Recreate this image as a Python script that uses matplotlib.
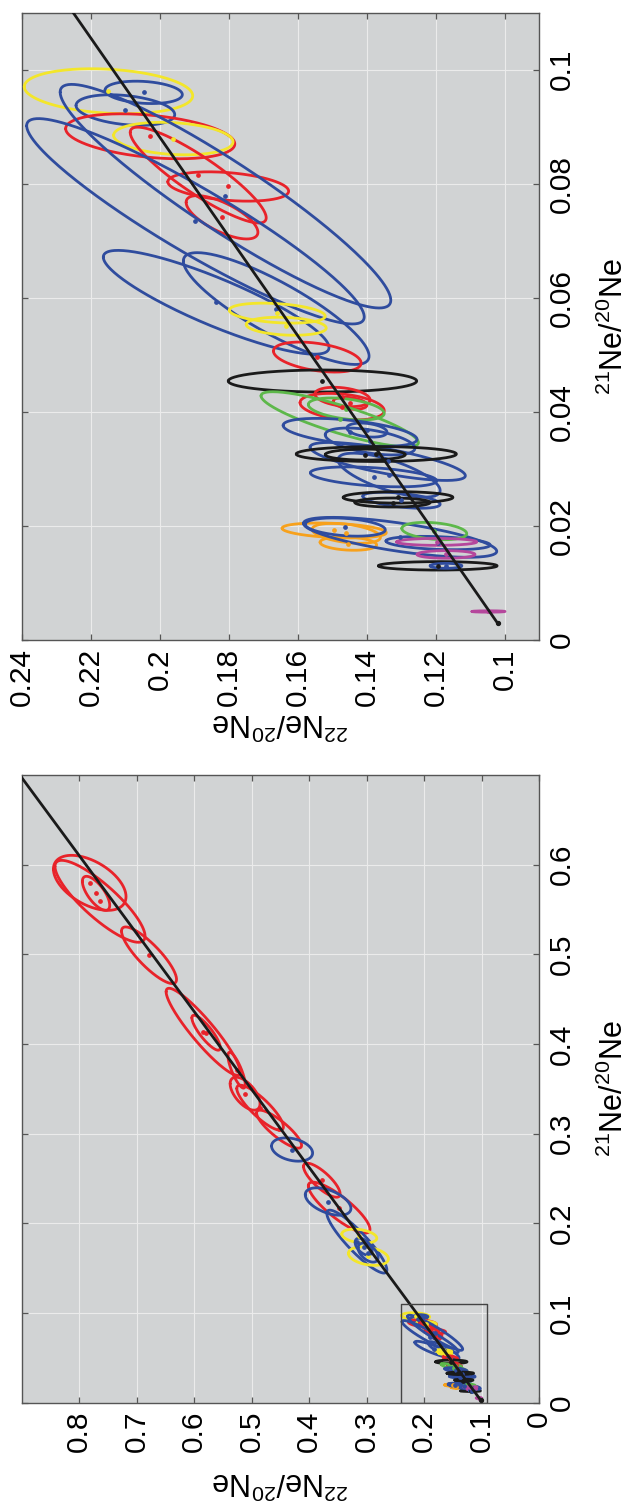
import numpy as np
import matplotlib
matplotlib.use("Agg")
import matplotlib.pyplot as plt

plt.rcParams["font.family"] = ["Liberation Sans", "DejaVu Sans"]
plt.rcParams["mathtext.fontset"] = "custom"
plt.rcParams["mathtext.rm"] = "Liberation Sans"
plt.rcParams["mathtext.it"] = "Liberation Sans:italic"
plt.rcParams["mathtext.bf"] = "Liberation Sans:bold"

# ---- data: neon isotope error ellipses (21Ne/20Ne, 22Ne/20Ne) ----
ell_group = [
    "yellow", "blue", "blue", "red", "yellow", "red", "red", "red",
    "blue", "blue", "blue", "blue", "yellow", "yellow", "red", "black",
    "red", "red", "red", "green", "green", "blue", "blue", "blue",
    "blue", "blue", "blue", "blue", "black", "black", "black", "black",
    "black", "orange", "orange", "orange", "blue", "blue", "green",
    "magenta", "magenta", "magenta", "blue", "blue",
    "red", "red", "red", "red", "red", "red", "red", "red", "red", "red",
    "blue", "red", "red", "blue", "blue", "yellow", "yellow", "blue", "blue",
]
ne21 = [
    0.0962, 0.0960, 0.0929, 0.0883, 0.0879, 0.0815, 0.0795, 0.0741,
    0.0734, 0.0778, 0.0592, 0.0581, 0.0573, 0.0550, 0.0496, 0.0454,
    0.0426, 0.0409, 0.0415, 0.0387, 0.0405, 0.0364, 0.0368, 0.0348,
    0.0313, 0.0286, 0.0289, 0.0245, 0.0326, 0.0325, 0.0250, 0.0241,
    0.0130, 0.0192, 0.0187, 0.0169, 0.0180, 0.0170, 0.0191,
    0.0172, 0.0150, 0.0050, 0.0198, 0.0130,
    0.5797, 0.5591, 0.5680, 0.4989, 0.4136, 0.4125, 0.3707, 0.3445, 0.3289, 0.3049,
    0.2822, 0.2480, 0.2174, 0.2242, 0.1795, 0.1856, 0.1633, 0.1672, 0.1739,
]
ne22 = [
    0.2148, 0.2046, 0.2099, 0.2027, 0.1960, 0.1888, 0.1801, 0.1819,
    0.1896, 0.1809, 0.1836, 0.1662, 0.1659, 0.1633, 0.1543, 0.1528,
    0.1470, 0.1471, 0.1448, 0.1478, 0.1459, 0.1448, 0.1399, 0.1390,
    0.1339, 0.1380, 0.1335, 0.1299, 0.1372, 0.1404, 0.1309, 0.1325,
    0.1194, 0.1494, 0.1459, 0.1453, 0.1303, 0.1193, 0.1204,
    0.1197, 0.1170, 0.1047, 0.1462, 0.1170,
    0.7814, 0.7635, 0.7704, 0.6783, 0.5843, 0.5791, 0.5261, 0.5113, 0.4852, 0.4522,
    0.4296, 0.3779, 0.3478, 0.3670, 0.3170, 0.3127, 0.2969, 0.2974, 0.3052,
]
sig21 = [
    0.00394, 0.00196, 0.00268, 0.00394, 0.00285, 0.0084, 0.00257, 0.0038,
    0.0180, 0.0196, 0.0091, 0.0098, 0.00175, 0.00158, 0.00263, 0.00193,
    0.0017, 0.00233, 0.00105, 0.00482, 0.00193, 0.00245, 0.00123, 0.00236,
    0.00333, 0.00175, 0.00385, 0.0014, 0.00131, 0.00096, 0.0010, 0.00079,
    0.00074, 0.00131, 0.00175, 0.00117, 0.0035, 0.00117, 0.00152,
    0.00061, 0.00067, 0.00012, 0.0016, 0.00044,
    0.0307, 0.0457, 0.0190, 0.0316, 0.0485, 0.0195, 0.0200, 0.0184, 0.0251, 0.0212,
    0.0130, 0.0190, 0.0284, 0.0153, 0.0351, 0.0078, 0.0103, 0.0106, 0.0095,
]
sig22 = [
    0.0244, 0.0112, 0.0143, 0.0245, 0.0173, 0.0197, 0.0175, 0.0104,
    0.0489, 0.0479, 0.0327, 0.0269, 0.0139, 0.0116, 0.0127, 0.0273,
    0.0080, 0.0122, 0.0049, 0.0228, 0.0110, 0.0194, 0.0058, 0.0130,
    0.0225, 0.0183, 0.0148, 0.0112, 0.0232, 0.0116, 0.0159, 0.0109,
    0.0172, 0.0151, 0.0099, 0.0082, 0.0280, 0.0151, 0.0094,
    0.0116, 0.0084, 0.0048, 0.0116, 0.0046,
    0.0631, 0.0783, 0.0238, 0.0478, 0.0643, 0.0247, 0.0150, 0.0260, 0.0405, 0.0391,
    0.0357, 0.0318, 0.0536, 0.0397, 0.0522, 0.0304, 0.0348, 0.0174, 0.0148,
]
corr = [
    0.2, 0.2, 0.3, 0.34, 0.2, 0.89, 0.32, 0.69,
    0.93, 0.93, 0.87, 0.85, 0.3, 0.2, 0.4, 0.0,
    0.3, 0.3, 0.3, 0.85, 0.4, 0.5, 0.3, 0.5,
    0.75, 0.4, 0.7, 0.5, 0.0, 0.0, 0.0, 0.0,
    0.0, 0.3, 0.4, 0.2, 0.7, 0.3, 0.3,
    0.0, 0.0, 0.0, 0.3, 0.0,
    0.5, 0.85, 0.7, 0.85, 0.92, 0.85, 0.8, 0.6, 0.85, 0.85,
    0.3, 0.8, 0.85, 0.5, 0.9, 0.3, 0.3, 0.5, 0.5,
]

# air composition and the cosmogenic trend through it
air_21, air_22 = 0.0029, 0.102
trend_slope = 1.149
trend_end_21 = 0.75

palette = {
    "blue": "#2f4c9e",
    "red": "#e8232a",
    "yellow": "#f3e62a",
    "green": "#5db84a",
    "orange": "#f7a11c",
    "magenta": "#b5479c",
    "black": "#1a1a1a",
}

panel_x_ticks = [[0.24, 0.22, 0.20, 0.18, 0.16, 0.14, 0.12, 0.10],
                 [0.8, 0.7, 0.6, 0.5, 0.4, 0.3, 0.2, 0.1, 0.0]]
panel_y_ticks = [[0.0, 0.02, 0.04, 0.06, 0.08, 0.10],
                 [0.0, 0.1, 0.2, 0.3, 0.4, 0.5, 0.6]]
panel_x_lim = [(0.24, 0.09), (0.9, 0.0)]
panel_y_lim = [(0.0, 0.11), (0.0, 0.70)]


def ellipse_curve(c21, c22, s21, s22, rho, n=240):
    t = np.linspace(0, 2 * np.pi, n)
    phi = np.arccos(rho)
    return c22 + s22 * np.cos(t), c21 + s21 * np.cos(t + phi)


def fmt(v):
    return f"{v:g}"


W, H = 629, 1506
fig = plt.figure(figsize=(W / 100, H / 100), dpi=100)
fig.patch.set_facecolor("white")

ax_left = 21.5 / W
ax_w = 517.7 / W
ax_h = 627.5 / H
ax_top = fig.add_axes([ax_left, 1 - 640 / H, ax_w, ax_h])
ax_full = fig.add_axes([ax_left, 1 - 1402.5 / H, ax_w, ax_h])

label22 = r"$^{22}$Ne/$^{20}$Ne"
label21 = r"$^{21}$Ne/$^{20}$Ne"

for i, ax in enumerate([ax_top, ax_full]):
    ax.set_facecolor("#d1d3d4")
    ax.set_xlim(*panel_x_lim[i])
    ax.set_ylim(*panel_y_lim[i])
    ax.set_xticks(panel_x_ticks[i])
    ax.set_xticklabels([fmt(v) for v in panel_x_ticks[i]])
    ax.set_yticks(panel_y_ticks[i])
    ax.set_yticklabels([fmt(v) for v in panel_y_ticks[i]])
    ax.grid(True, color="#ebebeb", linewidth=0.8, zorder=0)
    ax.set_axisbelow(True)
    ax.tick_params(direction="in", length=4, width=0.9, color="#555555",
                   top=True, bottom=True, left=True, right=True,
                   labelleft=False, labelright=True,
                   labelbottom=True, labeltop=False,
                   labelsize=21.5, pad=6)
    for lab in ax.get_xticklabels():
        lab.set_rotation(90)
        lab.set_ha("center")
        lab.set_va("top")
    for lab in ax.get_yticklabels():
        lab.set_rotation(90)
        lab.set_va("center")
        lab.set_ha("left")
    for sp in ax.spines.values():
        sp.set_color("#555555")
        sp.set_linewidth(1.0)

    # error ellipses and their centres
    for g, a, b, s1, s2, r in zip(ell_group, ne21, ne22, sig21, sig22, corr):
        ex, ey = ellipse_curve(a, b, s1, s2, r)
        ax.plot(ex, ey, color=palette[g], linewidth=2.0, zorder=3,
                solid_capstyle="round")
        ax.plot([b], [a], "o", color=palette[g], markersize=2.4, zorder=4)

    # trend line from air
    t21 = np.array([air_21, trend_end_21])
    ax.plot(air_22 + trend_slope * (t21 - air_21), t21, color="#1a1a1a",
            linewidth=2.0, zorder=5)
    ax.plot([air_22], [air_21], "o", color="#1a1a1a", markersize=2.8, zorder=6)

    ax.text(0.5, -0.13 if i == 0 else -0.124, label22, transform=ax.transAxes,
            rotation=180, ha="center", va="center", fontsize=22)
    ax.text(1.1445, 0.5, label21, transform=ax.transAxes,
            rotation=90, ha="center", va="center", fontsize=22)

# zoom window outline in the full view
zx = panel_x_lim[0]
zy = panel_y_lim[0]
ax_full.plot([zx[0], zx[1], zx[1], zx[0], zx[0]],
             [zy[0], zy[0], zy[1], zy[1], zy[0]],
             color="#444444", linewidth=1.0, zorder=7)

fig.savefig("out.png", dpi=100, facecolor="white")
